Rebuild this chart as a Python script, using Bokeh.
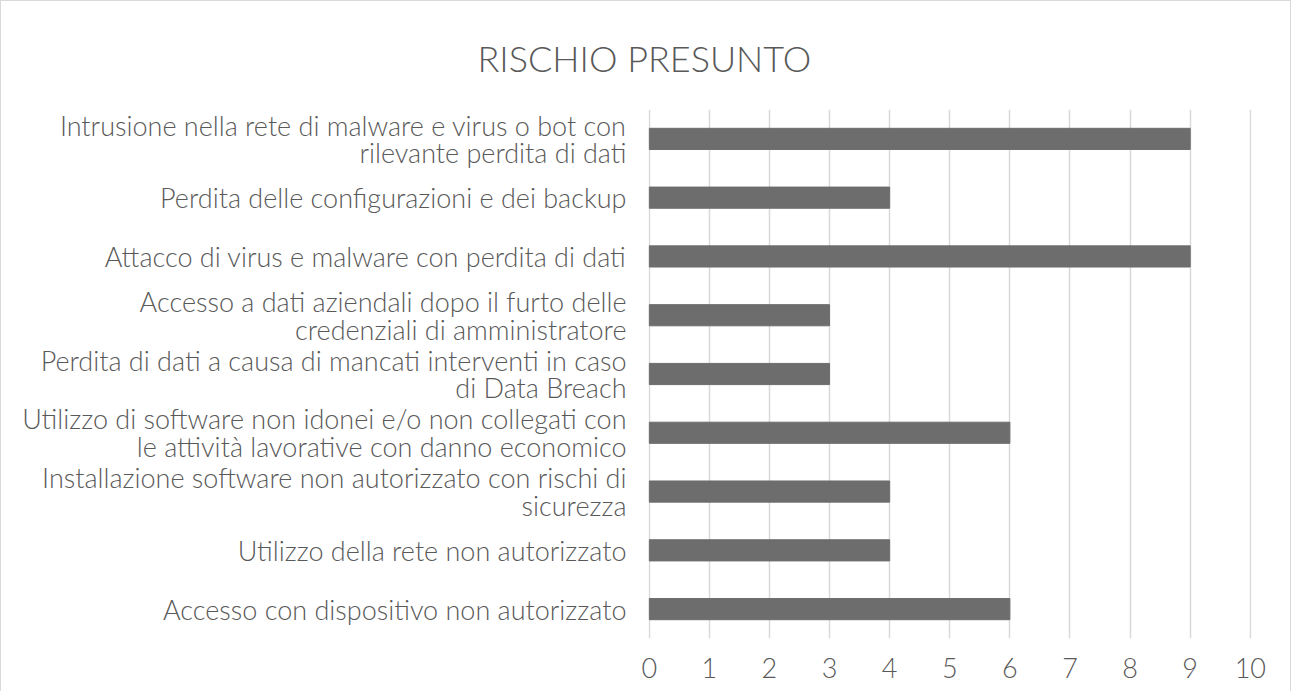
from bokeh.plotting import figure
from bokeh.embed import file_html
from bokeh.resources import INLINE
from bokeh.models import FixedTicker

categories = [
    "Intrusione nella rete di malware e virus o bot con\nrilevante perdita di dati",
    "Perdita delle configurazioni e dei backup",
    "Attacco di virus e malware con perdita di dati",
    "Accesso a dati aziendali dopo il furto delle\ncredenziali di amministratore",
    "Perdita di dati a causa di mancati interventi in caso\ndi Data Breach",
    "Utilizzo di software non idonei e/o non collegati con\nle attività lavorative con danno economico",
    "Installazione software non autorizzato con rischi di\nsicurezza",
    "Utilizzo della rete non autorizzato",
    "Accesso con dispositivo non autorizzato",
]
values = [9, 4, 9, 3, 3, 6, 4, 4, 6]
x_ticks = [0, 1, 2, 3, 4, 5, 6, 7, 8, 9, 10]
title_text = "RISCHIO PRESUNTO"

FONT = "Lato Light"
TXT = "#595959"

p = figure(
    frame_width=603, frame_height=529,
    y_range=list(reversed(categories)), x_range=(-0.012, 10.02),
    output_backend="svg", toolbar_location=None,
    min_border_left=647, min_border_right=39, min_border_top=108, min_border_bottom=53,
    title=title_text,
)
p.styles = {"border": "1px solid #d9d9d9"}
p.title.align = "left"
p.title.offset = -171
p.title.text_font = FONT
p.title.text_font_size = "36px"
p.title.text_font_style = "normal"
p.title.text_color = TXT
p.title.standoff = 60

p.hbar(y=categories, right=values, left=0, height=0.36, color="#6d6d6d")

p.outline_line_color = None
p.ygrid.grid_line_color = None
p.xgrid.grid_line_color = "#d9d9d9"
p.xgrid.grid_line_width = 1.5
p.xaxis.ticker = FixedTicker(ticks=x_ticks)
for ax in (p.xaxis, p.yaxis):
    ax.axis_line_color = None
    ax.major_tick_line_color = None
    ax.minor_tick_line_color = None
    ax.major_label_text_font = FONT
    ax.major_label_text_font_size = "27px"
    ax.major_label_text_color = TXT
    ax.major_label_text_line_height = 0.84
p.yaxis.major_label_standoff = 16
p.xaxis.major_label_standoff = 13

open("out.html", "w").write(file_html(p, INLINE))
